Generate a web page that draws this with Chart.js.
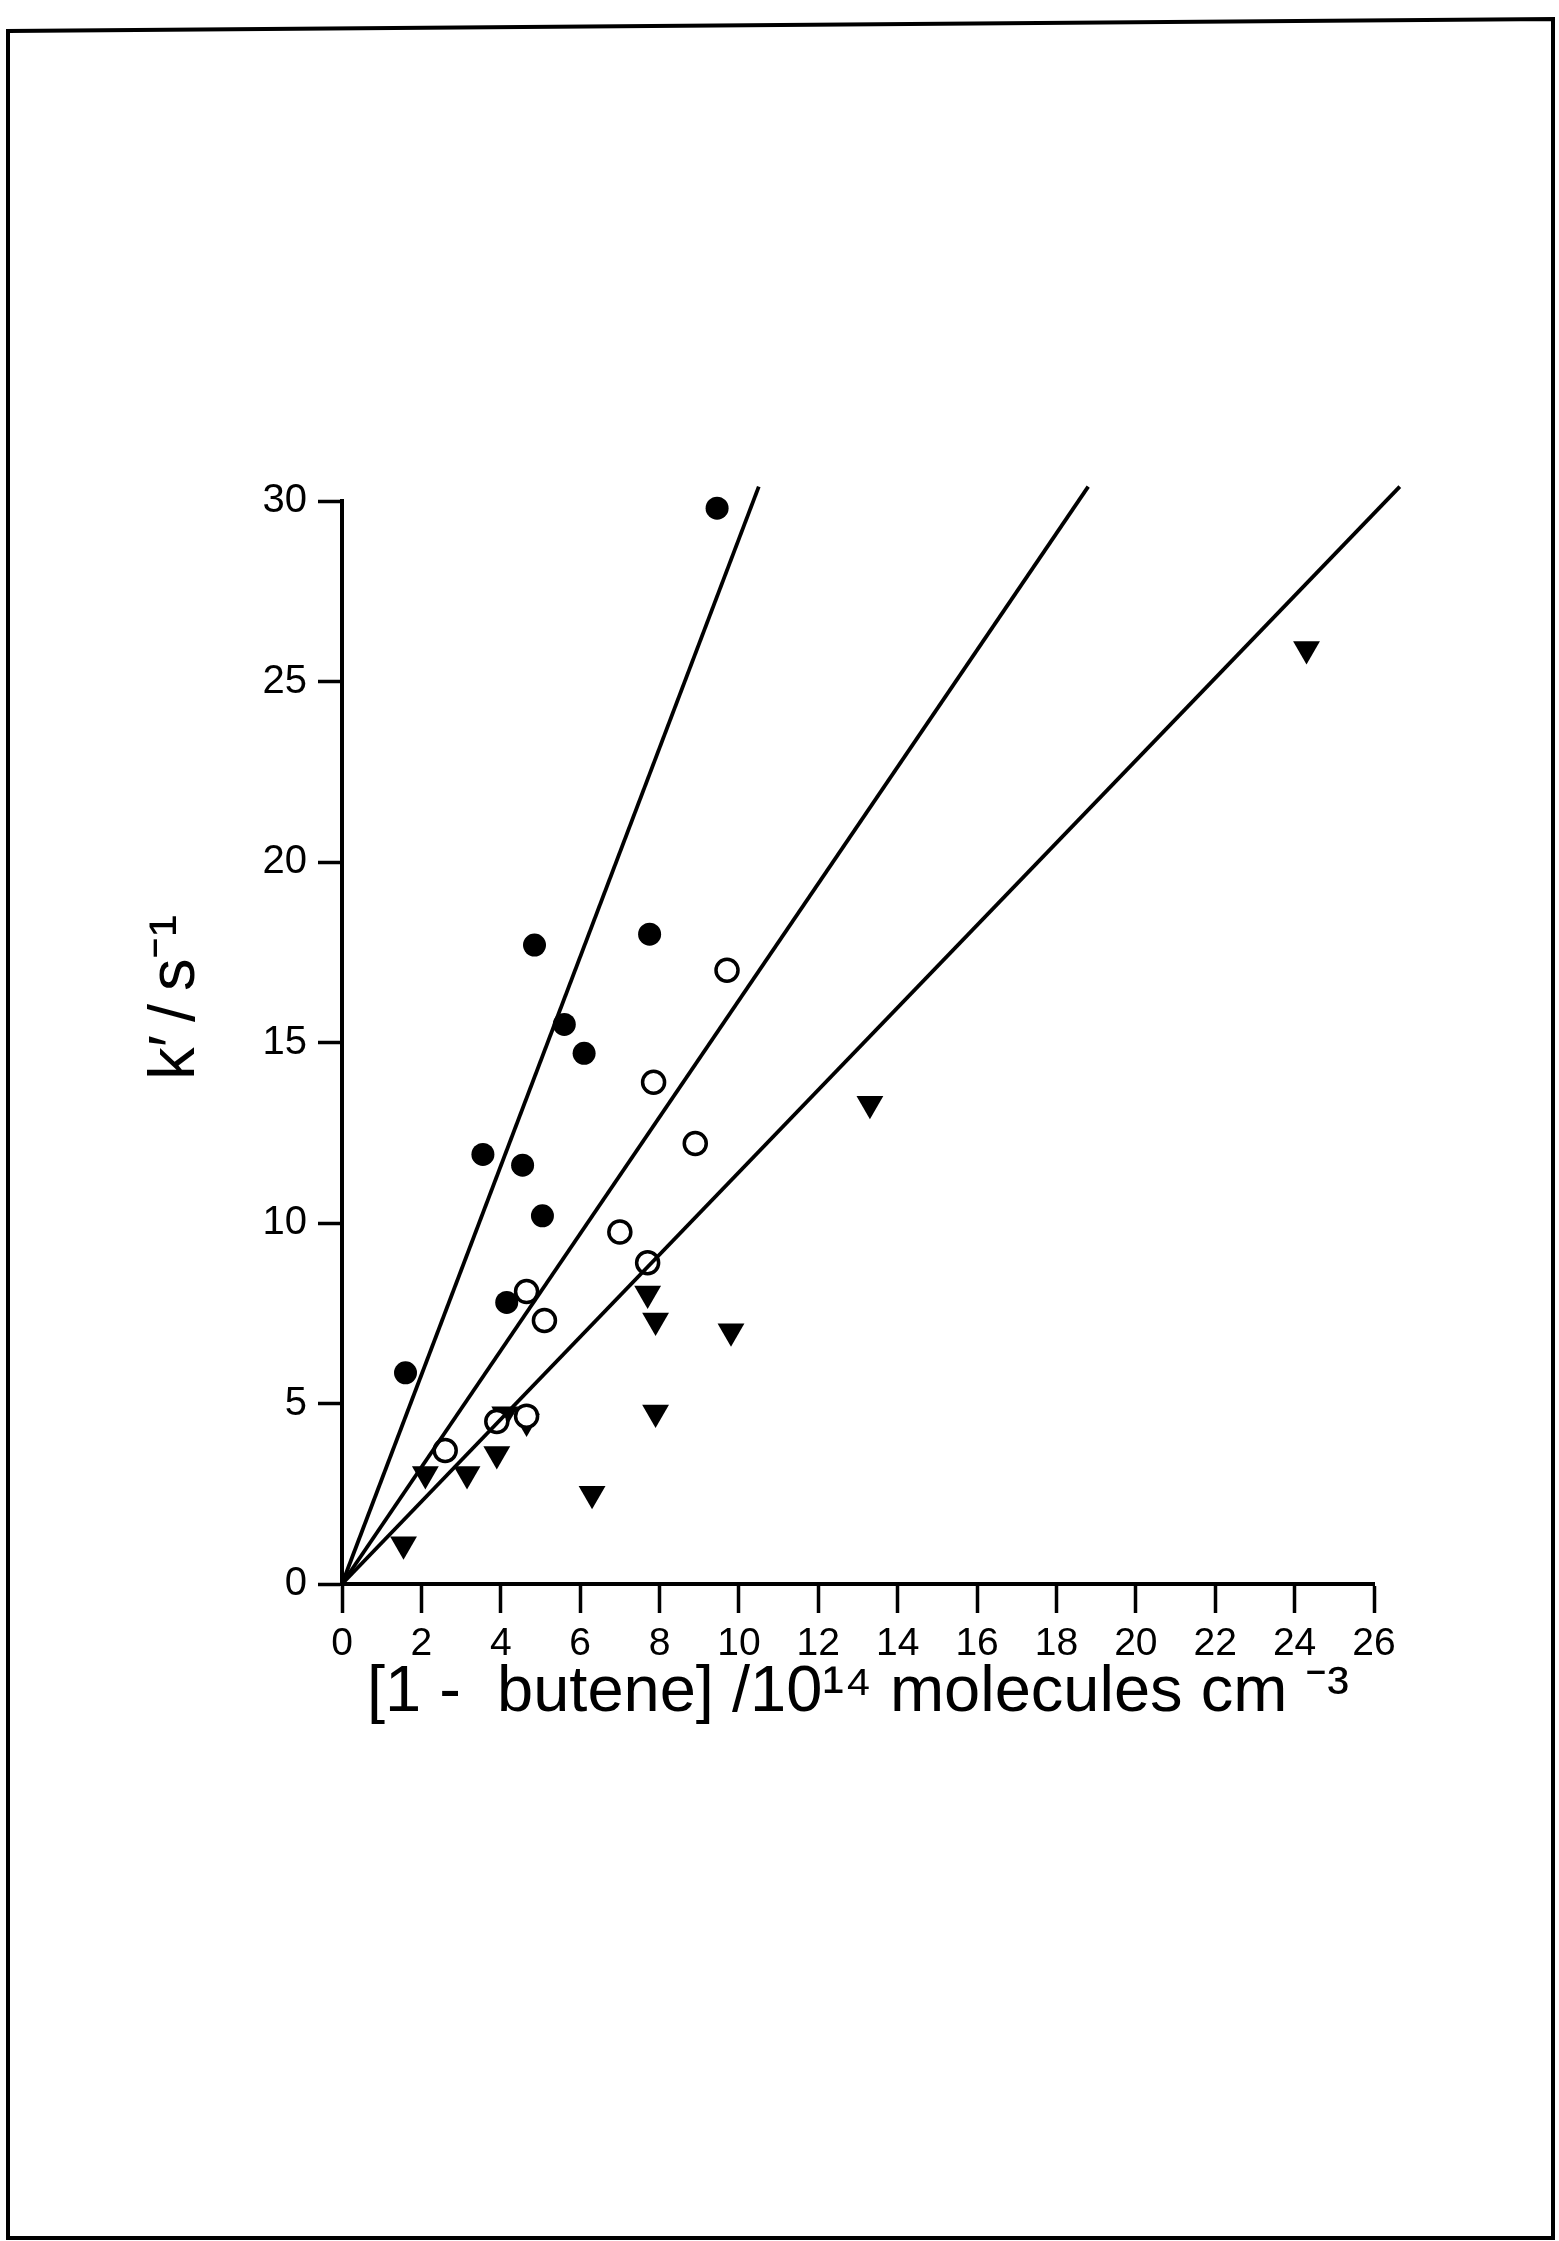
<!DOCTYPE html>
<html>
<head>
<meta charset="utf-8">
<script src="https://cdn.jsdelivr.net/npm/chart.js@4.4.1/dist/chart.umd.min.js"></script>
<style>
html, body { margin: 0; padding: 0; background: #fff; }
canvas { display: block; }
</style>
</head>
<body>
<canvas id="c" width="1559" height="2241"></canvas>
<script>
// ---- data ----
// filled circles
const filledX = [1.6, 3.55, 4.55, 5.05, 4.15, 4.85, 7.75, 5.6, 6.1, 9.45];
const filledY = [5.85, 11.9, 11.6, 10.2, 7.8, 17.7, 18.0, 15.5, 14.7, 29.8];
// open circles
const openX = [9.7, 7.85, 8.9, 7.0, 7.7, 4.65, 5.1, 4.65, 3.9, 2.6];
const openY = [17.0, 13.9, 12.2, 9.75, 8.9, 8.1, 7.3, 4.65, 4.5, 3.7];
// filled down-pointing triangles
const triX = [7.7, 7.9, 9.8, 7.9, 6.3, 4.65, 4.1, 3.9, 3.15, 2.1, 1.55, 13.3, 24.3];
const triY = [8.05, 7.3, 7.0, 4.75, 2.5, 4.5, 4.7, 3.6, 3.05, 3.05, 1.1, 13.3, 25.9];
// fitted straight lines through the origin (end points)
const fitEndX = [10.5, 18.8, 26.65];
const fitEndY = [30.4, 30.4, 30.4];
// axes
const xMin = 0, xMax = 26, xStep = 2;
const yMin = 0, yMax = 30, yStep = 5;
const xTitle = '[1 -  butene] /10\u00B9\u2074 molecules cm \u207B\u00B3';
const yTitle = '     k\u2032\u2009/\u2009s\u207B\u00B9';

const FAMILY = "'Liberation Sans', Arial, Helvetica, sans-serif";
const toPts = (xs, ys) => xs.map((x, i) => ({ x: x, y: ys[i] }));

const lineSets = fitEndX.map((x, i) => ({
  data: [{ x: 0, y: 0 }, { x: x, y: fitEndY[i] }],
  showLine: true,
  borderColor: '#000',
  borderWidth: 3.8,
  pointRadius: 0,
  pointHoverRadius: 0,
  clip: false,
  fill: false
}));

const framePlugin = {
  id: 'frame',
  beforeDraw(chart) {
    const c = chart.ctx;
    c.save();
    c.fillStyle = '#fff';
    c.fillRect(0, 0, chart.width, chart.height);
    c.restore();
  },
  afterDraw(chart) {
    const c = chart.ctx;
    c.save();
    c.strokeStyle = '#000';
    c.lineWidth = 4;
    c.beginPath();
    c.moveTo(8, 2238);
    c.lineTo(8, 31);
    c.lineTo(1553, 19);
    c.lineTo(1553, 2238);
    c.closePath();
    c.stroke();
    c.restore();
  }
};

new Chart(document.getElementById('c').getContext('2d'), {
  type: 'scatter',
  data: {
    datasets: [
      ...lineSets,
      {
        data: toPts(openX, openY),
        pointStyle: 'circle',
        pointRadius: 11,
        pointBackgroundColor: '#fff',
        pointBorderColor: '#000',
        pointBorderWidth: 3.5,
        clip: false
      },
      {
        data: toPts(filledX, filledY),
        pointStyle: 'circle',
        pointRadius: 11.5,
        pointBackgroundColor: '#000',
        pointBorderColor: '#000',
        pointBorderWidth: 0,
        clip: false
      },
      {
        data: toPts(triX, triY),
        pointStyle: 'triangle',
        pointRotation: 180,
        pointRadius: 15.5,
        pointBackgroundColor: '#000',
        pointBorderColor: '#000',
        pointBorderWidth: 0,
        clip: false
      }
    ]
  },
  options: {
    responsive: false,
    animation: false,
    devicePixelRatio: 1,
    layout: { padding: { top: 501, right: 185, left: 0, bottom: 0 } },
    plugins: { legend: { display: false }, tooltip: { enabled: false } },
    events: [],
    scales: {
      x: {
        type: 'linear',
        position: 'bottom',
        min: xMin, max: xMax,
        afterFit: s => { s.height = 657; },
        ticks: { stepSize: xStep, autoSkip: false, maxRotation: 0, color: '#000', padding: 8,
                 font: { family: FAMILY, size: 39 } },
        grid: { drawOnChartArea: false, drawTicks: true, tickLength: 29, tickWidth: 3.5, tickColor: '#000' },
        border: { display: true, color: '#000', width: 4 },
        title: { display: true, text: xTitle, color: '#000',
                 font: { family: FAMILY, size: 65, lineHeight: 1.2 },
                 padding: { top: 0, bottom: 509 } }
      },
      y: {
        type: 'linear',
        position: 'left',
        min: yMin, max: yMax,
        afterFit: s => { s.width = 342; },
        ticks: { stepSize: yStep, color: '#000', padding: 11,
                 font: { family: FAMILY, size: 40 } },
        grid: { drawOnChartArea: false, drawTicks: true, tickLength: 24, tickWidth: 3.5, tickColor: '#000' },
        border: { display: true, color: '#000', width: 4 },
        title: { display: true, text: yTitle, color: '#000',
                 font: { family: FAMILY, size: 65, lineHeight: 1.2 },
                 padding: { top: 137, bottom: 0 } }
      }
    }
  },
  plugins: [framePlugin]
});
</script>
</body>
</html>
